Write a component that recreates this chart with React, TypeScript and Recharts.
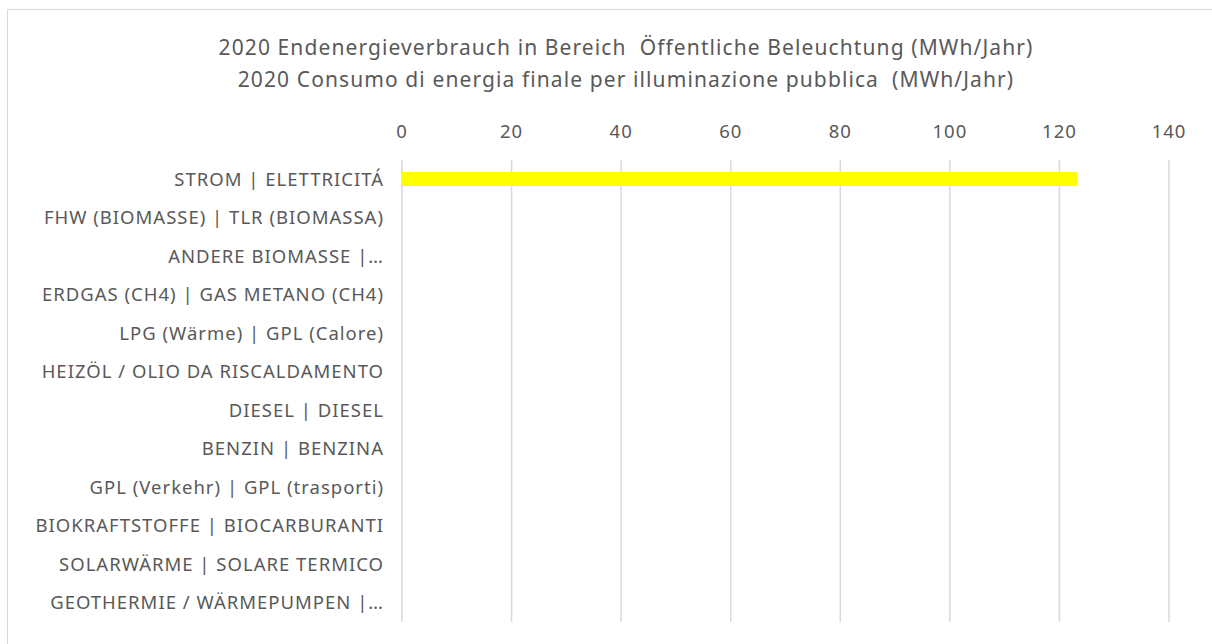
import React from 'react';
import { BarChart, Bar, XAxis, YAxis, CartesianGrid } from 'recharts';

const categories = [
  'STROM | ELETTRICITÁ',
  'FHW (BIOMASSE) | TLR (BIOMASSA)',
  'ANDERE BIOMASSE |…',
  'ERDGAS (CH4) | GAS METANO (CH4)',
  'LPG (Wärme) | GPL (Calore)',
  'HEIZÖL / OLIO DA RISCALDAMENTO',
  'DIESEL | DIESEL',
  'BENZIN | BENZINA',
  'GPL (Verkehr) | GPL (trasporti)',
  'BIOKRAFTSTOFFE | BIOCARBURANTI',
  'SOLARWÄRME | SOLARE TERMICO',
  'GEOTHERMIE / WÄRMEPUMPEN |…',
];
const values = [123.3, 0, 0, 0, 0, 0, 0, 0, 0, 0, 0, 0];
const xTicks = [0, 20, 40, 60, 80, 100, 120, 140];
const titleLines = [
  '2020 Endenergieverbrauch in Bereich  Öffentliche Beleuchtung (MWh/Jahr)',
  '2020 Consumo di energia finale per illuminazione pubblica  (MWh/Jahr)',
];

const data = categories.map((c, i) => ({ name: c, value: values[i] }));

const FONT = '"Noto Sans", sans-serif';
const TEXT = '#595959';

export default function App() {
  return (
    <div style={{ position: 'absolute', left: 0, top: 0, width: 1212, height: 644, overflow: 'hidden', background: '#fff', fontFamily: FONT }}>
      <div style={{ position: 'absolute', left: 7, top: 9, width: 1240, height: 680, border: '1px solid #d9d9d9', boxSizing: 'border-box' }} />
      {titleLines.map((t, i) => (
        <div key={i} style={{ position: 'absolute', left: 126, width: 1000, top: 32 + i * 32, textAlign: 'center', fontSize: 21, letterSpacing: 1.1, color: TEXT, whiteSpace: 'pre', lineHeight: '30px' }}>{t}</div>
      ))}
      <div style={{ position: 'absolute', left: 0, top: 0 }}>
        <BarChart width={1212} height={644} data={data} layout="vertical" margin={{ top: 120, right: 43, bottom: 22, left: 12 }} barCategoryGap={0}>
          <CartesianGrid horizontal={false} stroke="#d9d9d9" strokeWidth={1.5} />
          <XAxis type="number" orientation="top" domain={[0, 140]} ticks={xTicks} axisLine={false} tickLine={false} tickSize={0} tickMargin={22} height={40}
            tick={{ fill: TEXT, fontSize: 18.5, fontFamily: FONT, letterSpacing: 1 }} interval={0} />
          <YAxis type="category" dataKey="name" width={390} axisLine={false} tickLine={false} tickSize={0} tickMargin={18} interval={0}
            tick={{ fill: TEXT, fontSize: 18.5, fontFamily: FONT, letterSpacing: 1 }} />
          <Bar dataKey="value" fill="#FFFF00" barSize={14} isAnimationActive={false} />
        </BarChart>
      </div>
    </div>
  );
}
